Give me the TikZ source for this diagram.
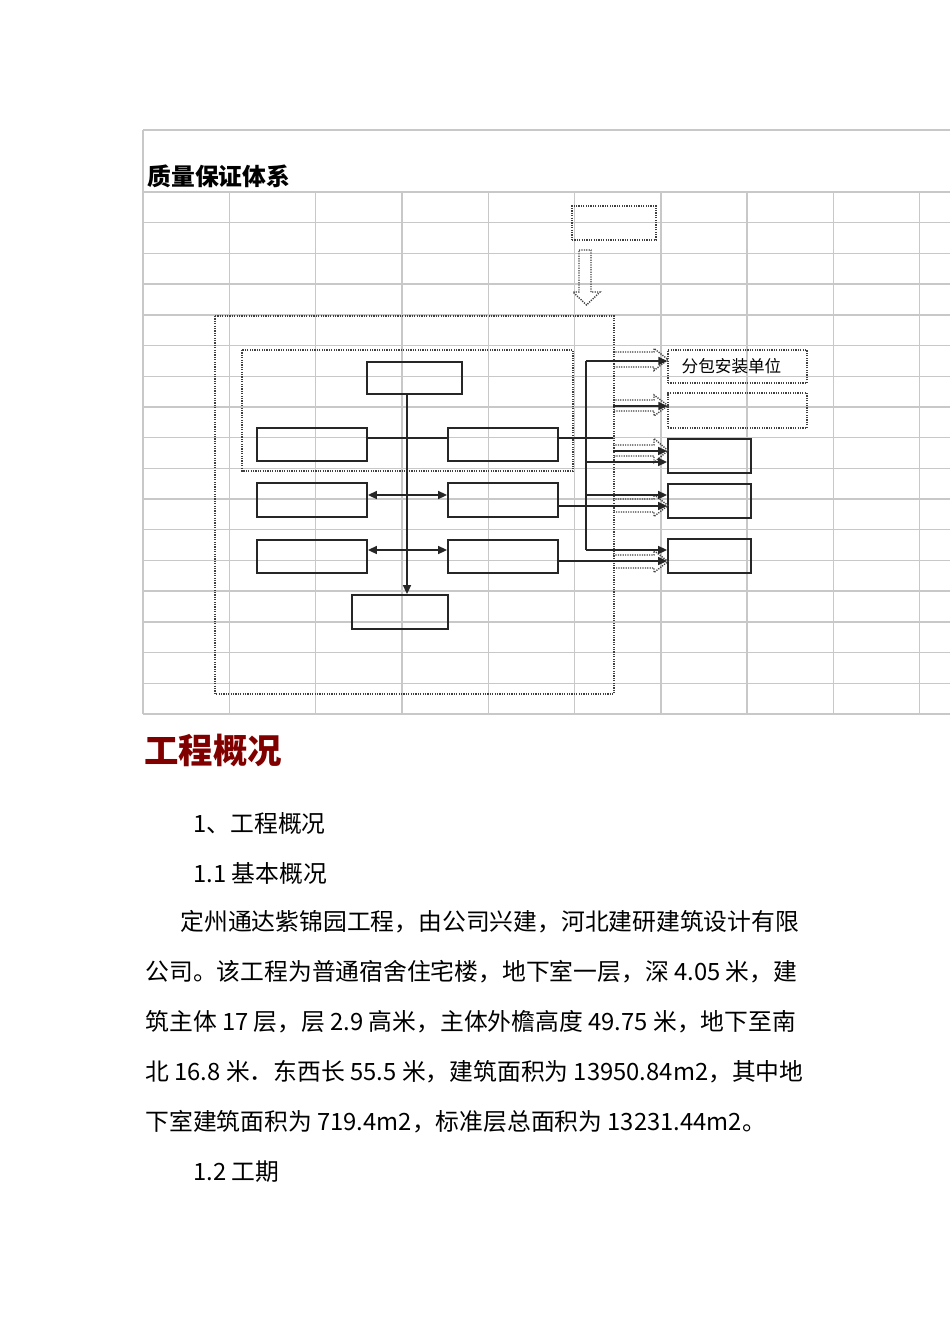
\documentclass[tikz,border=0pt]{standalone}
\usepackage{fontspec}
\setmainfont{Noto Sans CJK SC}
\usetikzlibrary{arrows.meta}
\definecolor{gridgray}{RGB}{200,200,200}
\definecolor{titlered}{RGB}{128,0,0}
\tikzset{
  cell/.style={gridgray, line width=0.7pt},
  box/.style={draw=black!85, line width=0.9pt, inner sep=0pt, minimum height=16.5pt},
  dotbox/.style={draw=black!75, dash pattern=on 0.6pt off 0.6pt, line width=0.7pt, inner sep=0pt, minimum height=16.5pt},
  dotline/.style={black!75, dash pattern=on 0.6pt off 0.6pt, line width=0.7pt},
  link/.style={black!85, line width=0.8pt},
  arr/.style={link, -{Triangle[length=4.5pt,width=4pt]}},
  darr/.style={link, {Triangle[length=4.5pt,width=4pt]}-{Triangle[length=4.5pt,width=4pt]}},
  body/.style={anchor=west, inner sep=0pt, font=\fontsize{11.9pt}{14pt}\selectfont},
}
\begin{document}
\begin{tikzpicture}[x=0.5pt, y=-0.5pt]
  \useasboundingbox (0,0) rectangle (950,1344);

  % Sheet grid
  \draw[cell] (143,130) -- (950,130);
  \foreach \r in {0,...,17} {
    \draw[cell] (143,{192+30.7*\r}) -- (950,{192+30.7*\r});
  }
  \draw[cell] (143,130) -- (143,714);
  \foreach \c in {1,...,9} {
    \draw[cell] ({143+86.3*\c},192) -- ({143+86.3*\c},714);
  }

  % Sheet heading
  \node[anchor=west, inner sep=0pt, font=\fontsize{11.9pt}{14pt}\selectfont\bfseries] (sheettitle) at (147,176) {质量保证体系};

  % Dotted frames
  \draw[dotline] (215,316) rectangle (614,694);
  \draw[dotline] (242,350) rectangle (573,471);

  % Top unit and hollow arrow
  \node[dotbox, minimum width=42pt, minimum height=17pt] (src) at (614,223) {};
  \draw[dotline] (579,250) -- (591,250) -- (591,292) -- (600,292) -- (586.5,305)
    -- (573,292) -- (579,292) -- cycle;

  % Inner boxes
  \node[box, minimum width=47.5pt, minimum height=16pt] (chief) at (414.5,378) {};
  \node[box, minimum width=55pt] (lA) at (312,444.5) {};
  \node[box, minimum width=55pt] (rA) at (503,444.5) {};
  \node[box, minimum width=55pt, minimum height=17pt] (lB) at (312,500) {};
  \node[box, minimum width=55pt, minimum height=17pt] (rB) at (503,500) {};
  \node[box, minimum width=55pt] (lC) at (312,556.5) {};
  \node[box, minimum width=55pt] (rC) at (503,556.5) {};
  \node[box, minimum width=48pt, minimum height=17pt] (foot) at (400,612) {};

  % Units on the right
  \node[dotbox, minimum width=69.5pt, font=\fontsize{8.3pt}{10pt}\selectfont] (sub1) at (737.5,366.5) {分包安装单位\hspace*{6pt}};
  \node[dotbox, minimum width=69.5pt, minimum height=17.5pt] (sub2) at (737.5,410.5) {};
  \node[box, minimum width=41.5pt, minimum height=17pt] (sub3) at (709.5,456) {};
  \node[box, minimum width=41.5pt, minimum height=17pt] (sub4) at (709.5,501) {};
  \node[box, minimum width=41.5pt, minimum height=17pt] (sub5) at (709.5,556) {};

  % Hollow arrows to the units
  \foreach \yc/\hs/\hh in {359.5/7.5/11, 405.5/5.5/10.5, 450.5/5.5/12, 505.5/6.5/11, 561.5/6.5/11} {
    \draw[dotline] (613,{\yc-\hs}) -- (654,{\yc-\hs}) -- (654,{\yc-\hh}) -- (668,\yc)
      -- (654,{\yc+\hh}) -- (654,{\yc+\hs}) -- (613,{\yc+\hs});
  }

  % Connectors
  \coordinate (spine) at (407,394);
  \coordinate (bus) at (586,361);
  \coordinate (edge) at (613,406);

  \draw[arr] (chief.south -| spine) -- (foot.north -| spine);
  \draw[link] (lA.east |- 0,438) -- (rA.west |- 0,438);
  \draw[link] (rA.east |- 0,438) -- (edge |- 0,438);
  \draw[darr] (lB.east |- 0,495) -- (rB.west |- 0,495);
  \draw[darr] (lC.east |- 0,550) -- (rC.west |- 0,550);

  \draw[link] (bus) -- (bus |- 0,550);
  \draw[arr] (bus) -- (sub1.west |- bus);
  \draw[arr] (edge) -- (sub2.west |- edge);
  \draw[arr] (edge |- 0,451) -- (sub3.west |- 0,451);
  \draw[arr] (bus |- 0,462) -- (sub3.west |- 0,462);
  \draw[arr] (bus |- 0,495) -- (sub4.west |- 0,495);
  \draw[arr] (rB.east |- 0,506) -- (sub4.west |- 0,506);
  \draw[arr] (bus |- 0,550) -- (sub5.west |- 0,550);
  \draw[arr] (rC.east |- 0,561) -- (sub5.west |- 0,561);

  % Text below the sheet
  \node[anchor=west, inner sep=0pt, titlered, font=\fontsize{17.2pt}{20pt}\selectfont\bfseries] (overview) at (144,750) {工程概况};
  \node[body] (sec1) at (193,823) {1、工程概况};
  \node[body] (sec11) at (193,873) {1.1 基本概况};
  \node[body] (line1) at (180,922) {定州通达紫锦园工程，由公司兴建，河北建研建筑设计有限};
  \node[body] (line2) at (145,972) {公司。该工程为普通宿舍住宅楼，地下室一层，深 4.05 米，建};
  \node[body] (line3) at (145,1022) {筑主体 17 层，层 2.9 高米，主体外檐高度 49.75 米，地下至南};
  \node[body] (line4) at (145,1072) {北 16.8 米．东西长 55.5 米，建筑面积为 13950.84m2，其中地};
  \node[body] (line5) at (145,1122) {下室建筑面积为 719.4m2，标准层总面积为 13231.44m2。};
  \node[body] (sec12) at (193,1172) {1.2 工期};
\end{tikzpicture}
\end{document}
